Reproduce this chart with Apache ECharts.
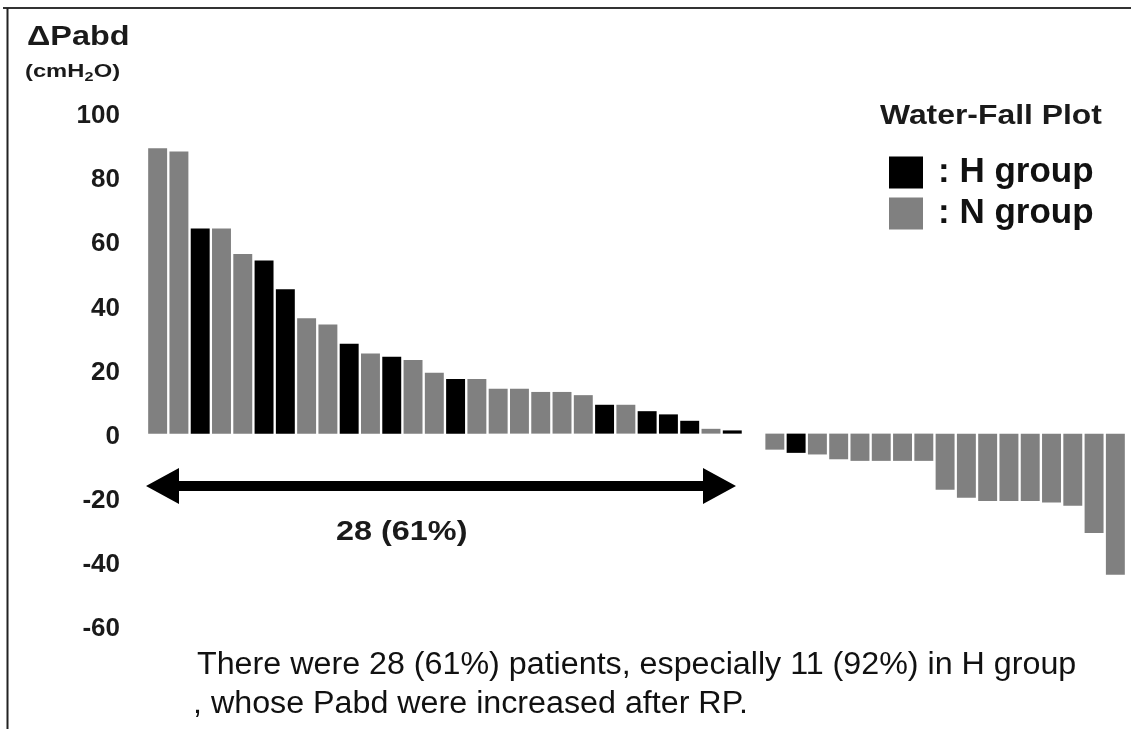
<!DOCTYPE html>
<html>
<head>
<meta charset="utf-8">
<script src="https://cdn.jsdelivr.net/npm/echarts@6/dist/echarts.min.js"></script>
<style>
html,body{margin:0;padding:0;background:#fff;}
#chart{width:1131px;height:729px;}
</style>
</head>
<body>
<div id="chart"></div>
<script>
// ---- data ----
var patients = [];
for (var i = 1; i <= 46; i++) patients.push('P' + i);
var deltaPabd = [89, 88, 64, 64, 56, 54, 45, 36, 34, 28, 25, 24, 23, 19, 17, 17, 14, 14, 13, 13, 12, 9, 9, 7, 6, 4, 1.5, 1,
                 0, -5, -6, -6.5, -8, -8.5, -8.5, -8.5, -8.5, -17.5, -20, -21, -21, -21, -21.5, -22.5, -31, -44];
var groups = ['N','N','H','N','N','H','H','N','N','H','N','H','N','N','H','N','N','N','N','N','N','H','N','H','H','H','N','H',
              'N','N','H','N','N','N','N','N','N','N','N','N','N','N','N','N','N','N'];
var yTicks = [-60, -40, -20, 0, 20, 40, 60, 80, 100];
var groupNames = {H: 'H group', N: 'N group'};
var groupColors = {H: '#000000', N: '#808080'};

var hData = deltaPabd.map(function (v, i) { return groups[i] === 'H' ? v : '-'; });
var nData = deltaPabd.map(function (v, i) { return groups[i] === 'N' ? v : '-'; });

var FONT = '"Liberation Sans", Arial, sans-serif';
var chart = echarts.init(document.getElementById('chart'));

var option = {
  backgroundColor: '#fff',
  animation: false,
  grid: {left: 147, right: 5, top: 113, bottom: 103},
  xAxis: {
    type: 'category', data: patients,
    axisLine: {show: false}, axisTick: {show: false}, axisLabel: {show: false}, splitLine: {show: false}
  },
  yAxis: {
    type: 'value', min: yTicks[0], max: yTicks[yTicks.length - 1], interval: 20,
    axisLine: {show: false}, axisTick: {show: false}, splitLine: {show: false},
    axisLabel: {
      margin: 27, color: '#1a1a1a',
      formatter: function (v) { return '{a|' + v + '}'; },
      rich: {a: {fontFamily: FONT, fontWeight: 'bold', fontSize: 26, color: '#1a1a1a', padding: [6, 0, 0, 0]}}
    }
  },
  legend: {
    orient: 'vertical', left: 889, top: 155, padding: 0, itemWidth: 34, itemGap: 6, itemHeight: 32,
    icon: 'rect',
    formatter: function (name) { return ': ' + name; },
    textStyle: {fontFamily: FONT, fontWeight: 'bold', fontSize: 35, color: '#111', padding: [0, 0, 0, 10], lineHeight: 32},
    data: [groupNames.H, groupNames.N]
  },
  series: [
    {name: groupNames.H, type: 'bar', stack: 'w', data: hData, barWidth: '89%', itemStyle: {color: groupColors.H}},
    {name: groupNames.N, type: 'bar', stack: 'w', data: nData, barWidth: '89%', itemStyle: {color: groupColors.N}}
  ],
  graphic: [
    // frame
    {type: 'line', shape: {x1: 3, y1: 8, x2: 1131, y2: 8}, style: {stroke: '#333', lineWidth: 2}},
    {type: 'line', shape: {x1: 7.5, y1: 8, x2: 7.5, y2: 729}, style: {stroke: '#222', lineWidth: 2}},
    // y axis name
    {type: 'text', x: 27, y: 24, scaleX: 1.2, style: {text: 'ΔPabd', font: 'bold 27px ' + FONT, fill: '#1a1a1a'}},
    {type: 'group', x: 25, y: 62, scaleX: 1.25, children: [
      {type: 'text', x: 0, y: 0, style: {text: '(cmH', font: 'bold 19px ' + FONT, fill: '#1a1a1a'}},
      {type: 'text', x: 47.5, y: 9, style: {text: '2', font: 'bold 13px ' + FONT, fill: '#1a1a1a'}},
      {type: 'text', x: 55, y: 0, style: {text: 'O)', font: 'bold 19px ' + FONT, fill: '#1a1a1a'}}
    ]},
    // legend title
    {type: 'text', x: 880, y: 103, scaleX: 1.18, style: {text: 'Water-Fall Plot', font: 'bold 27px ' + FONT, fill: '#1a1a1a'}},
    // arrow
    {type: 'polygon', shape: {points: [[146, 486], [179, 468], [179, 481], [703, 481], [703, 468], [736, 486], [703, 504], [703, 491], [179, 491], [179, 504]]},
     style: {fill: '#000'}},
    {type: 'text', x: 336, y: 519, scaleX: 1.2, style: {text: '28 (61%)', font: 'bold 27px ' + FONT, fill: '#1a1a1a'}},
    // footnote
    {type: 'text', x: 197, y: 650, scaleX: 1.04, style: {text: 'There were 28 (61%) patients, especially 11 (92%) in H group', font: '31px ' + FONT, fill: '#111'}},
    {type: 'text', x: 193, y: 689, scaleX: 1.04, style: {text: ', whose Pabd were increased after RP.', font: '31px ' + FONT, fill: '#111'}}
  ]
};
chart.setOption(option);
</script>
</body>
</html>
